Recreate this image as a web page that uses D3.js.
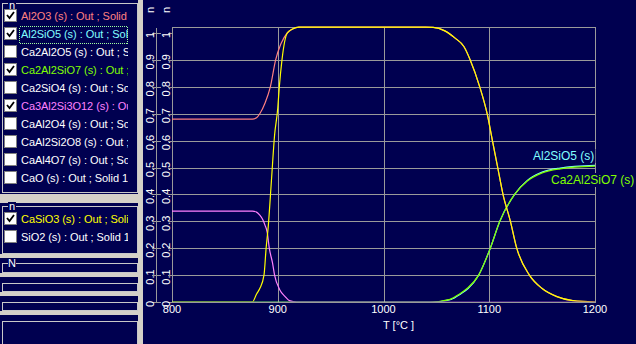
<!DOCTYPE html>
<html>
<head>
<meta charset="utf-8">
<script src="https://cdn.jsdelivr.net/npm/d3@7"></script>
<style>
body { margin: 0; background: #000050; }
svg { display: block; }
text { font-family: "Liberation Sans", Arial, sans-serif; }
</style>
</head>
<body>
<svg id="chart" width="636" height="344"></svg>
<script>
// ---- data ----
const tempTicks = [800, 900, 1000, 1100, 1200];
const fracTicks = [0, 0.1, 0.2, 0.3, 0.4, 0.5, 0.6, 0.7, 0.8, 0.9, 1];
const fracTickLabels = ["0", "0.1", "0.2", "0.3", "0.4", "0.5", "0.6", "0.7", "0.8", "0.9", "1"];

const al2o3T = [800, 876, 880, 883, 888, 893, 898, 903, 909, 914, 920, 1040, 1047, 1058, 1068, 1076, 1082, 1091, 1098, 1103, 1108, 1113, 1120, 1126, 1138, 1150, 1164, 1179, 1200];
const al2o3V = [0.68, 0.68, 0.685, 0.70, 0.74, 0.80, 0.90, 0.96, 1.00, 1.015, 1.022, 1.022, 1.021, 1.008, 0.98, 0.95, 0.90, 0.80, 0.70, 0.60, 0.50, 0.40, 0.30, 0.20, 0.10, 0.05, 0.02, 0.005, 0];

const al2sio5T = [800, 1046, 1064, 1073, 1080, 1090, 1101, 1110, 1124, 1136, 1150, 1167, 1200];
const al2sio5V = [0, 0, 0.01, 0.03, 0.05, 0.10, 0.20, 0.30, 0.40, 0.452, 0.483, 0.498, 0.508];

const ca2al2sio7T = [800, 1044, 1063, 1072, 1079, 1090, 1101, 1110, 1124, 1136, 1150, 1167, 1200];
const ca2al2sio7V = [0, 0, 0.01, 0.03, 0.05, 0.10, 0.20, 0.30, 0.40, 0.45, 0.48, 0.495, 0.505];

const ca3al2si3o12T = [800, 876, 880, 883, 886, 888, 890, 892, 895, 897, 902, 907, 911, 918, 1200];
const ca3al2si3o12V = [0.338, 0.338, 0.334, 0.323, 0.305, 0.285, 0.26, 0.20, 0.146, 0.10, 0.045, 0.02, 0.005, 0, 0];

const casio3T = [800, 876, 880, 883, 887, 889, 891, 894, 897, 900, 901.5, 904, 909, 914, 920, 1040, 1047, 1058, 1068, 1076, 1082, 1091, 1098, 1103, 1108, 1113, 1120, 1126, 1138, 1150, 1164, 1179, 1200];
const casio3V = [0, 0, 0.03, 0.05, 0.10, 0.20, 0.28, 0.45, 0.62, 0.72, 0.80, 0.90, 1.00, 1.015, 1.022, 1.022, 1.021, 1.008, 0.98, 0.95, 0.90, 0.80, 0.70, 0.60, 0.50, 0.40, 0.30, 0.20, 0.10, 0.05, 0.02, 0.005, 0];

const seriesNames = ["Al2O3", "Al2SiO5", "Ca2Al2SiO7", "Ca3Al2Si3O12", "CaSiO3"];
const seriesColors = ["#ff8080", "#80ffff", "#80ff00", "#ff80ff", "#ffff00"];
const seriesT = [al2o3T, al2sio5T, ca2al2sio7T, ca3al2si3o12T, casio3T];
const seriesV = [al2o3V, al2sio5V, ca2al2sio7V, ca3al2si3o12V, casio3V];

const group1 = ["Al2O3 (s) : Out ; Solid 1", "Al2SiO5 (s) : Out ; Solid 1", "Ca2Al2O5 (s) : Out ; Solid 1",
                "Ca2Al2SiO7 (s) : Out ; Solid 1", "Ca2SiO4 (s) : Out ; Solid 1", "Ca3Al2Si3O12 (s) : Out ; Solid 1",
                "CaAl2O4 (s) : Out ; Solid 1", "CaAl2Si2O8 (s) : Out ; Solid 1", "CaAl4O7 (s) : Out ; Solid 1",
                "CaO (s) : Out ; Solid 1"];
const group1Checked = [true, true, false, true, false, true, false, false, false, false];
const group1Colors = ["#ff8080", "#80ffff", "#ffffff", "#80ff00", "#ffffff", "#ff80ff", "#ffffff", "#ffffff", "#ffffff", "#ffffff"];
const group2 = ["CaSiO3 (s) : Out ; Solid 1", "SiO2 (s) : Out ; Solid 1"];
const group2Checked = [true, false];
const group2Colors = ["#ffff00", "#ffffff"];

// ---- setup ----
const W = 636, H = 344;
const navy = "#000050", grid = "#9a9a9a", panelGray = "#d4d0c8";
const svg = d3.select("#chart");
svg.append("rect").attr("width", W).attr("height", H).attr("fill", navy);

const x = d3.scaleLinear([800, 1200], [172, 595]);
const y = d3.scaleLinear([0, 1], [302, 33]);
const yTop = y(1.022);

// grid
const g = svg.append("g").attr("shape-rendering", "crispEdges");
g.selectAll(".hg").data(fracTicks.slice(1, 10)).join("line")
    .attr("x1", x(800)).attr("x2", x(1200))
    .attr("y1", d => Math.round(y(d)) + 0.5).attr("y2", d => Math.round(y(d)) + 0.5)
    .attr("stroke", grid);
g.selectAll(".vg").data(tempTicks.slice(1, 4)).join("line")
    .attr("x1", d => Math.round(x(d)) + 0.5).attr("x2", d => Math.round(x(d)) + 0.5)
    .attr("y1", yTop).attr("y2", y(0))
    .attr("stroke", grid);
g.append("rect")
    .attr("x", x(800) + 0.5).attr("y", Math.round(yTop) + 0.5)
    .attr("width", x(1200) - x(800)).attr("height", Math.round(y(0)) - Math.round(yTop))
    .attr("fill", "none").attr("stroke", grid);

// two y axes
const ax1 = 156;
g.append("line").attr("x1", ax1 + 0.5).attr("x2", ax1 + 0.5).attr("y1", 28).attr("y2", 303).attr("stroke", grid);
g.selectAll(".t1").data(fracTicks).join("line")
    .attr("x1", 152).attr("x2", 161)
    .attr("y1", d => Math.round(y(d)) + 0.5).attr("y2", d => Math.round(y(d)) + 0.5)
    .attr("stroke", grid);
g.selectAll(".t2").data(fracTicks).join("line")
    .attr("x1", 168).attr("x2", 172)
    .attr("y1", d => Math.round(y(d)) + 0.5).attr("y2", d => Math.round(y(d)) + 0.5)
    .attr("stroke", grid);

[154, 170].forEach(bx => {
    svg.append("g").selectAll("text").data(fracTicks).join("text")
        .attr("transform", d => `translate(${bx},${y(d) + 2}) rotate(-90)`)
        .attr("text-anchor", "middle")
        .attr("fill", "#ffffff").attr("font-size", 11)
        .text((d, i) => fracTickLabels[i]);
    svg.append("text")
        .attr("transform", `translate(${bx},10) rotate(-90)`)
        .attr("text-anchor", "middle")
        .attr("fill", "#ffffff").attr("font-size", 11)
        .text("n");
});

// x labels
svg.append("g").selectAll("text").data(tempTicks).join("text")
    .attr("x", d => x(d)).attr("y", 313)
    .attr("text-anchor", "middle")
    .attr("fill", "#ffffff").attr("font-size", 11)
    .text(d => d);
svg.append("text").attr("x", 383).attr("y", 329)
    .attr("fill", "#ffffff").attr("font-size", 11)
    .text("T [°C ]");

// curves
svg.append("clipPath").attr("id", "plotclip")
    .append("rect").attr("x", 172).attr("y", 20).attr("width", 424).attr("height", 281.5);

const line = d3.line()
    .x(d => x(d.t))
    .y(d => y(d.v))
    .curve(d3.curveMonotoneX);

const curves = svg.append("g").attr("clip-path", "url(#plotclip)");
seriesNames.forEach((name, i) => {
    const pts = seriesT[i].map((t, j) => ({t: t, v: seriesV[i][j]}));
    curves.append("path")
        .attr("d", line(pts))
        .attr("fill", "none")
        .attr("stroke", seriesColors[i])
        .attr("stroke-width", 1.2);
});

// end labels
const labels = svg.append("g");
function endLabel(txt, col, xLeft, yBase) {
    const grp = labels.append("g");
    const bg = grp.append("rect").attr("fill", navy);
    const t = grp.append("text").attr("x", xLeft).attr("y", yBase)
        .attr("fill", col).attr("font-size", 12).text(txt);
    const b = t.node().getBBox();
    bg.attr("x", b.x - 1).attr("y", b.y).attr("width", b.width + 2).attr("height", b.height);
}
endLabel("Al2SiO5 (s)", "#80ffff", 533, 160);
endLabel("Ca2Al2SiO7 (s)", "#80ff00", 551, 184);

// ---- left panel ----
svg.append("rect").attr("x", 138).attr("y", 0).attr("width", 5).attr("height", H).attr("fill", panelGray);
const bands = [[194, 203], [254, 258], [273, 277], [292, 296], [311, 315]];
svg.append("g").selectAll("rect").data(bands).join("rect")
    .attr("x", 0).attr("y", d => d[0]).attr("width", 143).attr("height", d => d[1] - d[0])
    .attr("fill", panelGray);

const boxes = [[3, 192, "n"], [206, 253, "n"], [263, 272, "N"], [283, 291, ""], [302, 310, ""], [321, 350, ""]];
const pb = svg.append("g").attr("shape-rendering", "crispEdges");
boxes.forEach(b => {
    pb.append("rect").attr("x", 2.5).attr("y", b[0] + 0.5).attr("width", 135).attr("height", b[1] - b[0])
        .attr("fill", "none").attr("stroke", "#c8c8c8");
    if (b[2]) {
        pb.append("rect").attr("x", 8).attr("y", Math.max(0, b[0] - 4)).attr("width", 8).attr("height", 9).attr("fill", navy);
        svg.append("text").attr("x", 12).attr("y", Math.max(9, b[0] + 4)).attr("text-anchor", "middle")
            .attr("fill", "#ffffff").attr("font-size", 11).text(b[2]);
    }
});

svg.append("clipPath").attr("id", "listclip")
    .append("rect").attr("x", 0).attr("y", 0).attr("width", 128).attr("height", H);

function drawList(items, checked, colors, y0) {
    items.forEach((txt, i) => {
        const cy = y0 + i * 18;
        svg.append("rect").attr("x", 4.5).attr("y", cy - 6.5).attr("width", 12).attr("height", 12)
            .attr("fill", "#ffffff").attr("stroke", "#808080").attr("shape-rendering", "crispEdges");
        if (checked[i]) {
            svg.append("path")
                .attr("d", `M7,${cy - 1} L9.5,${cy + 2} L14,${cy - 4}`)
                .attr("fill", "none").attr("stroke", "#000000").attr("stroke-width", 1.8);
        }
        svg.append("text").attr("x", 21).attr("y", cy + 4)
            .attr("clip-path", "url(#listclip)")
            .attr("fill", colors[i]).attr("font-size", 11).attr("letter-spacing", -0.05)
            .text(txt);
    });
}
drawList(group1, group1Checked, group1Colors, 16);
drawList(group2, group2Checked, group2Colors, 219);

// focus rectangle around the selected item
svg.append("rect").attr("x", 19.5).attr("y", 26.5).attr("width", 108).attr("height", 17)
    .attr("fill", "none").attr("stroke", "#a0ffa0").attr("stroke-dasharray", "1,1")
    .attr("shape-rendering", "crispEdges");
</script>
</body>
</html>
